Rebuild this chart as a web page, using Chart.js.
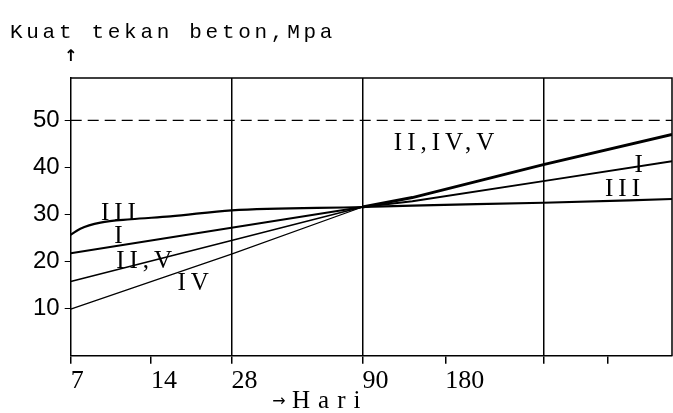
<!DOCTYPE html>
<html>
<head>
<meta charset="utf-8">
<script src="https://cdn.jsdelivr.net/npm/chart.js@4"></script>
<style>
  html, body { margin: 0; padding: 0; background: #fff; }
  #wrap { width: 673px; height: 413px; }
</style>
</head>
<body>
<div id="wrap"><canvas id="strengthChart" width="673" height="413"></canvas></div>
<script>
// age axis is not uniform on the original, so ticks sit on an "axis position" scale
const ageTickPos = [0, 1, 2, 3.63, 4.66, 5.88, 6.68];
const ageTickLabels = ['7', '14', '28', '90', '180', '', ''];
const majorGridIdx = [2, 3, 5];
const axisEnd = 7.48;

// strength (MPa)
const posIII  = [0, 0.12, 0.37, 0.75, 1.24, 2, 3.63, 4.25, 5.88, 7.48];
const seriesIII = [25.7, 27.0, 28.3, 29.0, 29.6, 30.9, 31.6, 31.9, 32.5, 33.3];
const posI    = [0, 2, 3.63, 4.25, 5.88, 7.48];
const seriesI = [21.8, 27.2, 31.6, 32.8, 37.1, 41.3];
const posIIV  = [0, 2, 3.63, 4.25, 5.88, 7.48];
const seriesIIV = [15.8, 24.5, 31.6, 33.6, 40.6, 47.0];
const posIV   = [0, 2, 3.63];
const seriesIV = [9.9, 21.6, 31.6];
const refLevel = 50;

const curveLabels = [
  { text: 'III', x: 0.6, y: 30.2 },
  { text: 'I', x: 0.6, y: 25.3 },
  { text: 'II,V', x: 0.92, y: 20 },
  { text: 'IV', x: 1.53, y: 15.3 },
  { text: 'II,IV,V', x: 4.65, y: 45 },
  { text: 'I', x: 7.07, y: 40.4 },
  { text: 'III', x: 6.87, y: 35.3 }
];

const pts = (xs, ys) => xs.map((x, i) => ({ x: x, y: ys[i] }));

const decor = {
  id: 'decor',
  afterDatasetsDraw(chart) {
    const ctx = chart.ctx, a = chart.chartArea;
    const xs = chart.scales.x, ys = chart.scales.y;
    ctx.save();
    ctx.strokeStyle = '#000';
    ctx.lineWidth = 1.5;
    ctx.beginPath();
    ctx.moveTo(a.left, a.top); ctx.lineTo(a.right, a.top); ctx.lineTo(a.right, a.bottom);
    ctx.stroke();

    ctx.fillStyle = '#000';
    ctx.textAlign = 'center';
    ctx.textBaseline = 'middle';
    ctx.font = '25px "Liberation Serif"';
    ctx.letterSpacing = '5px';
    curveLabels.forEach(l => {
      ctx.fillText(l.text, xs.getPixelForValue(l.x) + 2, ys.getPixelForValue(l.y));
    });

    ctx.textAlign = 'left';
    ctx.textBaseline = 'alphabetic';
    ctx.font = '21px "Liberation Mono"';
    ctx.letterSpacing = '3.7px';
    ctx.fillText('Kuat tekan beton,Mpa', 10, 38);
    ctx.letterSpacing = '0px';
    ctx.font = 'bold 16px "DejaVu Sans"';
    ctx.textAlign = 'center';
    ctx.fillText('\u2191', a.left, 61);
    ctx.font = '16px "DejaVu Sans"';
    ctx.fillText('\u2192', 279, 406);
    ctx.textAlign = 'left';
    ctx.font = '25px "Liberation Serif"';
    ctx.letterSpacing = '8px';
    ctx.fillText('Hari', 292, 408);
    ctx.restore();
  }
};

const ctx = document.getElementById('strengthChart').getContext('2d');
new Chart(ctx, {
  type: 'line',
  data: {
    datasets: [
      { label: 'III', data: pts(posIII, seriesIII), borderColor: '#000', borderWidth: 2.2, tension: 0.3, cubicInterpolationMode: 'monotone' },
      { label: 'I', data: pts(posI, seriesI), borderColor: '#000', borderWidth: 2 },
      { label: 'II,V', data: pts(posIIV, seriesIIV), borderColor: '#000', borderWidth: 1.5,
        segment: { borderWidth: c => c.p0.parsed.x >= 3.6 ? 3 : 1.5 } },
      { label: 'IV', data: pts(posIV, seriesIV), borderColor: '#000', borderWidth: 1.2 },
      { label: 'ref', data: [{ x: 0, y: refLevel }, { x: axisEnd, y: refLevel }], borderColor: '#000', borderWidth: 1.2, borderDash: [11, 6] }
    ]
  },
  options: {
    responsive: false,
    animation: false,
    elements: { point: { radius: 0 }, line: { tension: 0 } },
    layout: { padding: { left: 28, top: 78, right: 1, bottom: 14 } },
    plugins: { legend: { display: false }, tooltip: { enabled: false } },
    scales: {
      x: {
        type: 'linear',
        min: 0,
        max: axisEnd,
        afterBuildTicks: s => { s.ticks = ageTickPos.map(v => ({ value: v })); },
        ticks: {
          autoSkip: false,
          maxRotation: 0,
          align: 'start',
          padding: 2,
          color: '#000',
          font: { family: 'Liberation Serif', size: 26 },
          callback: (v, i) => ageTickLabels[i]
        },
        grid: {
          color: c => majorGridIdx.includes(c.index) ? '#000' : 'rgba(0,0,0,0)',
          lineWidth: 1.5,
          tickColor: '#000',
          tickLength: 8
        },
        border: { color: '#000', width: 1.5 }
      },
      y: {
        min: 0,
        max: 59,
        afterBuildTicks: s => { s.ticks = [0, 10, 20, 30, 40, 50].map(v => ({ value: v })); },
        ticks: {
          padding: 5,
          color: '#000',
          font: { family: 'Liberation Sans', size: 24 },
          callback: v => v === 0 ? '' : v
        },
        grid: {
          drawOnChartArea: false,
          tickLength: 6,
          tickColor: c => c.tick && c.tick.value === 0 ? 'rgba(0,0,0,0)' : '#000'
        },
        border: { color: '#000', width: 1.5 }
      }
    }
  },
  plugins: [decor]
});
</script>
</body>
</html>
